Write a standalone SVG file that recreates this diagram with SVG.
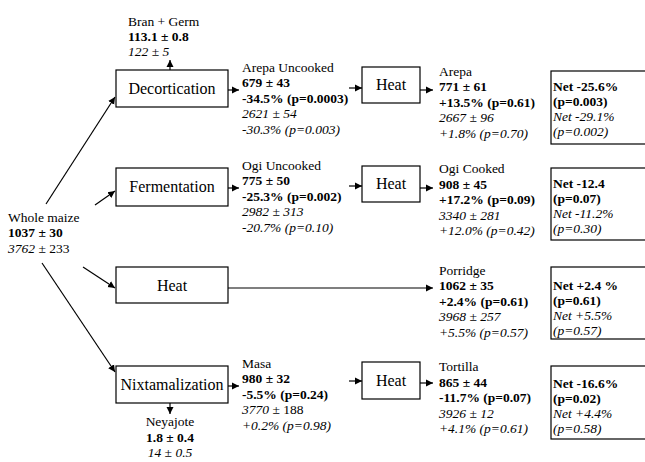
<svg xmlns="http://www.w3.org/2000/svg" width="645" height="462" viewBox="0 0 645 462">
<defs>
<marker id="ah" markerWidth="8" markerHeight="8" refX="7" refY="4" orient="auto" markerUnits="userSpaceOnUse">
<path d="M0,0.5 L7,4 L0,7.5 z" fill="#000"/>
</marker>
<style>
text{font-family:"Liberation Serif","Times New Roman",serif;font-size:13.5px;fill:#000}
.b{font-weight:bold}
.i{font-style:italic}
.lbl{font-size:16px;text-anchor:middle}
.box{fill:#fff;stroke:#000;stroke-width:1.2}
.c{fill:none;stroke:#000;stroke-width:1.2;marker-end:url(#ah)}
.m{text-anchor:middle}
</style>
</defs>
<rect width="645" height="462" fill="#fff"/>
<g id="connectors">
<line class="c" x1="46" y1="204" x2="115" y2="97"/>
<line class="c" x1="95" y1="205" x2="115" y2="191"/>
<line class="c" x1="83" y1="267" x2="115" y2="288"/>
<line class="c" x1="42" y1="263" x2="115" y2="372"/>
<line class="c" x1="170" y1="70" x2="170" y2="60"/>
<line class="c" x1="170" y1="403" x2="170" y2="414"/>
<line class="c" x1="228" y1="90" x2="239" y2="90"/>
<line class="c" x1="349" y1="88" x2="362" y2="88"/>
<line class="c" x1="420" y1="90" x2="433" y2="90"/>
<line class="c" x1="228" y1="188" x2="239" y2="188"/>
<line class="c" x1="349" y1="186" x2="362" y2="186"/>
<line class="c" x1="420" y1="188" x2="433" y2="188"/>
<line class="c" x1="228" y1="288" x2="433" y2="288"/>
<line class="c" x1="228" y1="386" x2="239" y2="386"/>
<line class="c" x1="349" y1="381" x2="362" y2="381"/>
<line class="c" x1="420" y1="383" x2="433" y2="383"/>
</g>
<g id="whole-maize">
<text x="8" y="221.5">Whole maize</text>
<text x="8" y="237" class="b">1037 ± 30</text>
<text x="8" y="252.5"><tspan class="i">3762</tspan> ± 233</text>
</g>
<g id="decortication">
<rect class="box" x="116" y="70" width="112" height="37"/>
<text class="lbl" x="172" y="94">Decortication</text>
</g>
<g id="bran-germ">
<text x="128" y="26">Bran + Germ</text>
<text x="128" y="41" class="b">113.1 ± 0.8</text>
<text x="128" y="56" class="i">122 ± 5</text>
</g>
<g id="fermentation">
<rect class="box" x="116" y="168" width="112" height="38"/>
<text class="lbl" x="172" y="192">Fermentation</text>
</g>
<g id="heat-main">
<rect class="box" x="116" y="267" width="112" height="36"/>
<text class="lbl" x="172" y="290.5">Heat</text>
</g>
<g id="nixtamalization">
<rect class="box" x="116" y="366" width="112" height="37"/>
<text class="lbl" x="172" y="390">Nixtamalization</text>
</g>
<g id="neyajote">
<text class="m" x="170" y="426">Neyajote</text>
<text class="m b" x="170" y="441.5">1.8 ± 0.4</text>
<text class="m i" x="170" y="457">14 ± 0.5</text>
</g>
<g id="arepa-uncooked">
<text x="242" y="71.5">Arepa Uncooked</text>
<text x="242" y="87" class="b">679 ± 43</text>
<text x="242" y="102.5" class="b">-34.5% (p=0.0003)</text>
<text x="242" y="118" class="i">2621 ± 54</text>
<text x="242" y="133.5" class="i">-30.3% (p=0.003)</text>
</g>
<g id="heat-1">
<rect class="box" x="362" y="67" width="58" height="36"/>
<text class="lbl" x="391" y="90">Heat</text>
</g>
<g id="arepa">
<text x="439" y="75.5">Arepa</text>
<text x="439" y="91" class="b">771 ± 61</text>
<text x="439" y="106.5" class="b">+13.5% (p=0.61)</text>
<text x="439" y="122" class="i">2667 ± 96</text>
<text x="439" y="137.5" class="i">+1.8% (p=0.70)</text>
</g>
<g id="net-1">
<rect class="box" x="551" y="71" width="100" height="73"/>
<text x="553" y="91" class="b">Net -25.6%</text>
<text x="553" y="106" class="b">(p=0.003)</text>
<text x="553" y="121" class="i">Net -29.1%</text>
<text x="553" y="136" class="i">(p=0.002)</text>
</g>
<g id="ogi-uncooked">
<text x="242" y="169.5">Ogi Uncooked</text>
<text x="242" y="185" class="b">775 ± 50</text>
<text x="242" y="200.5" class="b">-25.3% (p=0.002)</text>
<text x="242" y="216" class="i">2982 ± 313</text>
<text x="242" y="231.5" class="i">-20.7% (p=0.10)</text>
</g>
<g id="heat-2">
<rect class="box" x="362" y="166" width="58" height="36"/>
<text class="lbl" x="391" y="189">Heat</text>
</g>
<g id="ogi-cooked">
<text x="439" y="173">Ogi Cooked</text>
<text x="439" y="188.5" class="b">908 ± 45</text>
<text x="439" y="204" class="b">+17.2% (p=0.09)</text>
<text x="439" y="219.5" class="i">3340 ± 281</text>
<text x="439" y="235" class="i">+12.0% (p=0.42)</text>
</g>
<g id="net-2">
<rect class="box" x="551" y="168" width="100" height="72"/>
<text x="553" y="188" class="b">Net -12.4</text>
<text x="553" y="203" class="b">(p=0.07)</text>
<text x="553" y="218" class="i">Net -11.2%</text>
<text x="553" y="233" class="i">(p=0.30)</text>
</g>
<g id="porridge">
<text x="439" y="274.5">Porridge</text>
<text x="439" y="290" class="b">1062 ± 35</text>
<text x="439" y="305.5" class="b">+2.4% (p=0.61)</text>
<text x="439" y="321" class="i">3968 ± 257</text>
<text x="439" y="336.5" class="i">+5.5% (p=0.57)</text>
</g>
<g id="net-3">
<rect class="box" x="551" y="267" width="100" height="72"/>
<text x="553" y="290" class="b">Net +2.4 %</text>
<text x="553" y="305" class="b">(p=0.61)</text>
<text x="553" y="320" class="i">Net +5.5%</text>
<text x="553" y="335" class="i">(p=0.57)</text>
</g>
<g id="masa">
<text x="242" y="367.5">Masa</text>
<text x="242" y="383" class="b">980 ± 32</text>
<text x="242" y="398.5" class="b">-5.5% (p=0.24)</text>
<text x="242" y="414"><tspan class="i">3770</tspan> ± 188</text>
<text x="242" y="429.5" class="i">+0.2% (p=0.98)</text>
</g>
<g id="heat-4">
<rect class="box" x="362" y="362" width="58" height="37"/>
<text class="lbl" x="391" y="385.5">Heat</text>
</g>
<g id="tortilla">
<text x="439" y="371">Tortilla</text>
<text x="439" y="386.5" class="b">865 ± 44</text>
<text x="439" y="402" class="b">-11.7% (p=0.07)</text>
<text x="439" y="417.5" class="i">3926 ± 12</text>
<text x="439" y="433" class="i">+4.1% (p=0.61)</text>
</g>
<g id="net-4">
<rect class="box" x="551" y="366" width="100" height="73"/>
<text x="553" y="388" class="b">Net -16.6%</text>
<text x="553" y="403" class="b">(p=0.02)</text>
<text x="553" y="418" class="i">Net +4.4%</text>
<text x="553" y="433" class="i">(p=0.58)</text>
</g>
</svg>
